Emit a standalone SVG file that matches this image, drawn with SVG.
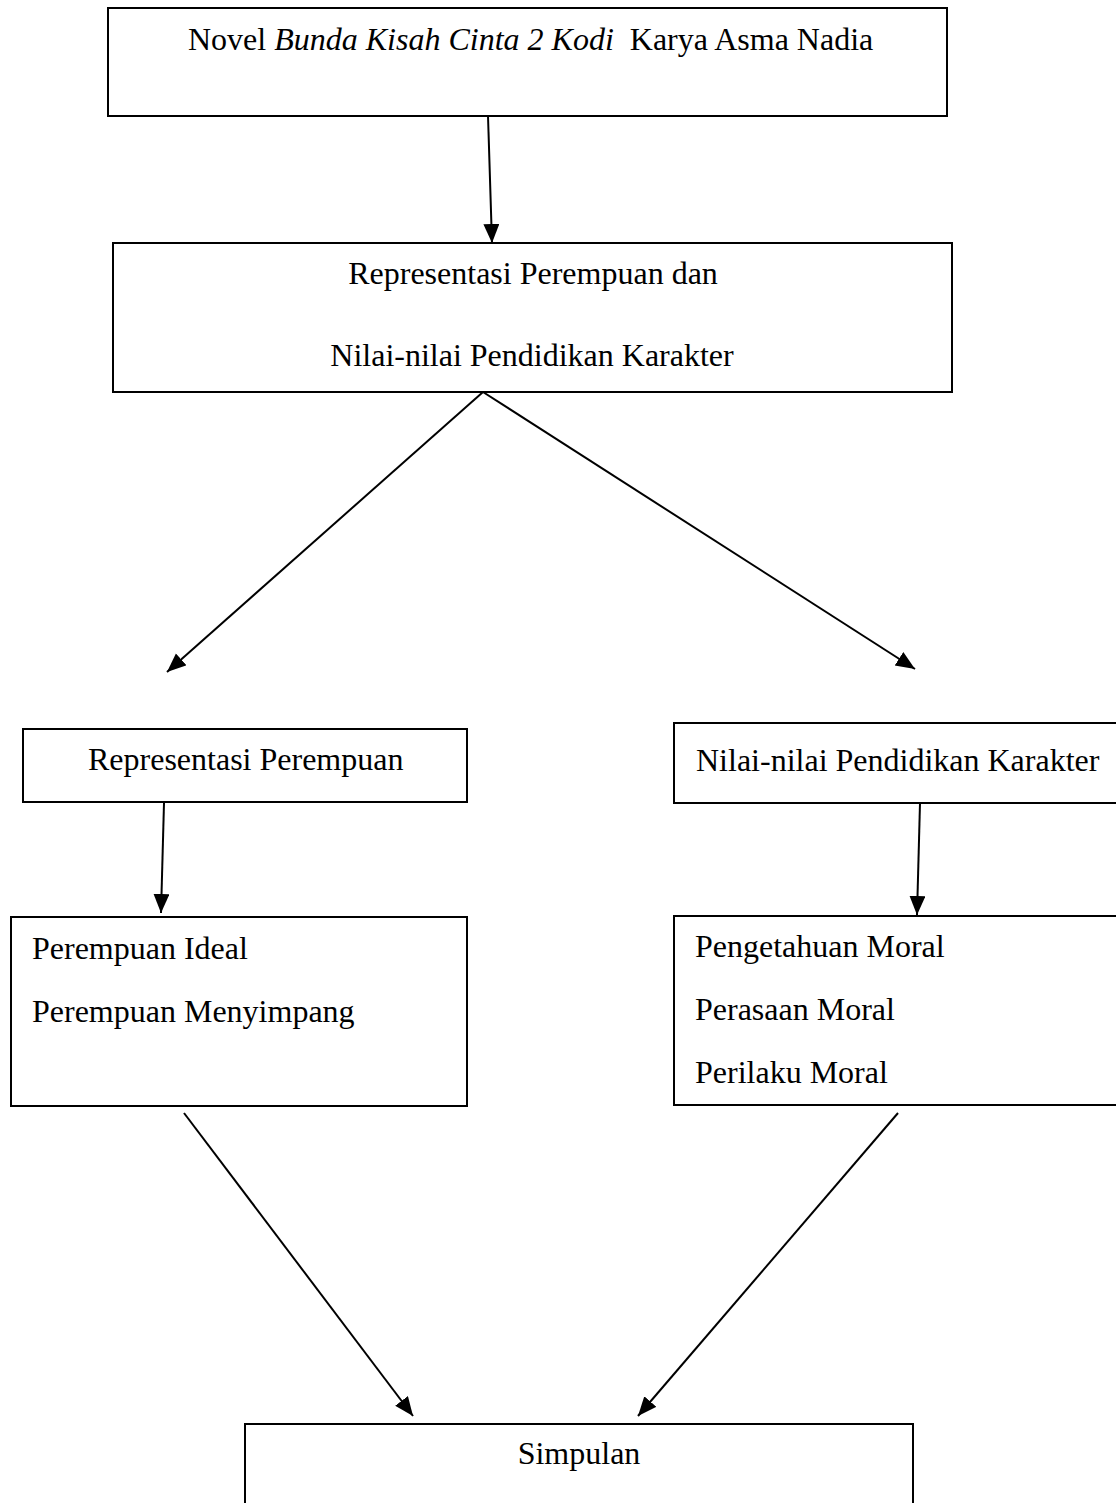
<svg xmlns="http://www.w3.org/2000/svg" width="1116" height="1503" viewBox="0 0 1116 1503">
<style>
  .box { fill: #ffffff; stroke: #000000; stroke-width: 2; }
  .t { font-family: "Liberation Serif", "Times New Roman", serif; font-size: 32px; fill: #000000; white-space: pre; }
  .c { text-anchor: middle; }
  .edge { stroke: #000000; stroke-width: 2; fill: none; marker-end: url(#arrow); }
</style>
<defs>
  <marker id="arrow" markerUnits="userSpaceOnUse" markerWidth="22" markerHeight="18" refX="19" refY="8" orient="auto">
    <path d="M0,0 L19,8 L0,16 Z" fill="#000000"/>
  </marker>
</defs>
<rect width="1116" height="1503" fill="#ffffff"/>
<g id="connectors">
  <line class="edge" x1="488" y1="116" x2="492" y2="243"/>
  <line class="edge" x1="483" y1="392" x2="167" y2="672"/>
  <line class="edge" x1="483" y1="392" x2="915" y2="669"/>
  <line class="edge" x1="164" y1="803" x2="161" y2="913"/>
  <line class="edge" x1="920" y1="803" x2="917" y2="915"/>
  <line class="edge" x1="184" y1="1113" x2="413" y2="1416"/>
  <line class="edge" x1="898" y1="1113" x2="638" y2="1416"/>
</g>
<g id="novel">
  <rect class="box" x="108" y="8" width="839" height="108"/>
  <text class="t" x="188" y="50" xml:space="preserve">Novel <tspan font-style="italic">Bunda Kisah Cinta 2 Kodi</tspan>  Karya Asma Nadia</text>
</g>
<g id="representasi-nilai">
  <rect class="box" x="113" y="243" width="839" height="149"/>
  <text class="t c" x="533" y="284">Representasi Perempuan dan</text>
  <text class="t c" x="532" y="366">Nilai-nilai Pendidikan Karakter</text>
</g>
<g id="representasi-perempuan">
  <rect class="box" x="23" y="729" width="444" height="73"/>
  <text class="t" x="88" y="770">Representasi Perempuan</text>
</g>
<g id="nilai-pendidikan">
  <rect class="box" x="674" y="723" width="450" height="80"/>
  <text class="t" x="696" y="771">Nilai-nilai Pendidikan Karakter</text>
</g>
<g id="perempuan-jenis">
  <rect class="box" x="11" y="917" width="456" height="189"/>
  <text class="t" x="32" y="959">Perempuan Ideal</text>
  <text class="t" x="32" y="1022">Perempuan Menyimpang</text>
</g>
<g id="moral">
  <rect class="box" x="674" y="916" width="450" height="189"/>
  <text class="t" x="695" y="957">Pengetahuan Moral</text>
  <text class="t" x="695" y="1020">Perasaan Moral</text>
  <text class="t" x="695" y="1083">Perilaku Moral</text>
</g>
<g id="simpulan">
  <rect class="box" x="245" y="1424" width="668" height="100"/>
  <text class="t c" x="579" y="1464">Simpulan</text>
</g>
</svg>
